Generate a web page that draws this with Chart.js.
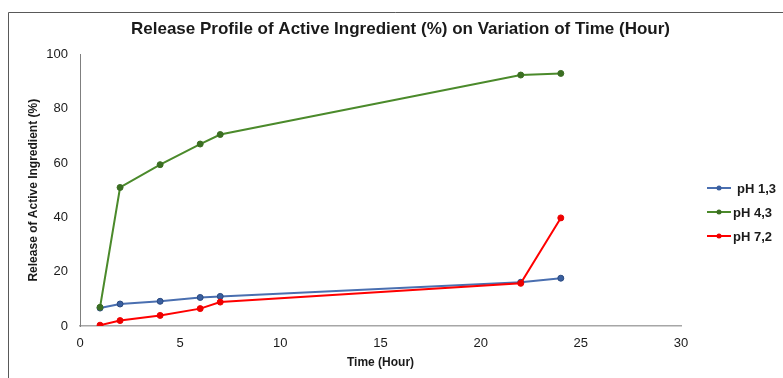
<!DOCTYPE html>
<html>
<head>
<meta charset="utf-8">
<script src="https://cdn.jsdelivr.net/npm/chart.js@4.4.1/dist/chart.umd.min.js"></script>
<style>
  html, body { margin: 0; padding: 0; background: #fff; }
  #wrap { width: 783px; height: 378px; position: relative; }
</style>
</head>
<body>
<div id="wrap"><canvas id="c" width="783" height="378"></canvas></div>
<script>
const timeHours = [1, 2, 4, 6, 7, 22, 24];
const ph13 = [6.6, 8.1, 9.1, 10.5, 10.9, 16.1, 17.6];
const ph43 = [6.9, 51.0, 59.4, 67.0, 70.5, 92.4, 93.0];
const ph72 = [0.3, 2.0, 3.9, 6.4, 8.8, 15.7, 39.8];
const seriesLabels = ['pH 1,3', 'pH 4,3', 'pH 7,2'];
const xTicks = [0, 5, 10, 15, 20, 25, 30];
const yTicks = [0, 20, 40, 60, 80, 100];

const FONT = "'Liberation Sans', Arial, sans-serif";

const toPts = arr => arr.map((v, i) => ({ x: timeHours[i], y: v }));

const framePlugin = {
  id: 'frame',
  beforeDraw(chart) {
    const ctx = chart.ctx;
    ctx.save();
    ctx.strokeStyle = '#595959';
    ctx.lineWidth = 1;
    ctx.beginPath();
    ctx.moveTo(8.5, 378);
    ctx.lineTo(8.5, 12.5);
    ctx.lineTo(783, 12.5);
    ctx.stroke();
    ctx.restore();
  }
};

const legendPlugin = {
  id: 'customLegend',
  afterDraw(chart) {
    const ctx = chart.ctx;
    ctx.save();
    const ys = [188, 212, 236];
    const textX = [737, 733, 733];
    chart.data.datasets.forEach((ds, i) => {
      const y = ys[i];
      ctx.strokeStyle = ds.borderColor;
      ctx.lineWidth = 2;
      ctx.beginPath();
      ctx.moveTo(707, y);
      ctx.lineTo(731, y);
      ctx.stroke();
      ctx.fillStyle = ds.pointBackgroundColor;
      ctx.beginPath();
      ctx.arc(719, y, 2.5, 0, Math.PI * 2);
      ctx.fill();
      ctx.fillStyle = '#1a1a1a';
      ctx.font = "bold 13px " + FONT;
      ctx.textBaseline = 'middle';
      ctx.textAlign = 'left';
      ctx.fillText(ds.label, textX[i], y + 1);
    });
    ctx.restore();
  }
};

new Chart(document.getElementById('c'), {
  type: 'line',
  data: {
    datasets: [
      {
        label: seriesLabels[0], data: toPts(ph13),
        borderColor: '#4a6fb0', backgroundColor: '#4a6fb0',
        pointBackgroundColor: '#3a5f9f', pointBorderColor: '#2a4a80',
        pointBorderWidth: 1, pointRadius: 3, borderWidth: 2, order: 2
      },
      {
        label: seriesLabels[1], data: toPts(ph43),
        borderColor: '#4b8a2b', backgroundColor: '#4b8a2b',
        pointBackgroundColor: '#3b6e22', pointBorderColor: '#3b6e22',
        pointBorderWidth: 1, pointRadius: 3, borderWidth: 2, order: 1
      },
      {
        label: seriesLabels[2], data: toPts(ph72),
        borderColor: '#ff0000', backgroundColor: '#ff0000',
        pointBackgroundColor: '#ee0000', pointBorderColor: '#ee0000',
        pointBorderWidth: 1, pointRadius: 3, borderWidth: 2, order: 0
      }
    ]
  },
  options: {
    responsive: false,
    animation: false,
    layout: { padding: { left: 18, right: 0, top: 0, bottom: 0 } },
    plugins: {
      legend: { display: false },
      tooltip: { enabled: false },
      title: {
        display: true,
        text: 'Release Profile of Active Ingredient (%) on Variation of Time (Hour)',
        color: '#1a1a1a',
        font: { family: FONT, size: 17, weight: 'bold' },
        padding: { top: 19, bottom: 15 }
      }
    },
    scales: {
      x: {
        type: 'linear', min: 0, max: 30,
        afterBuildTicks: s => { s.ticks = xTicks.map(v => ({ value: v })); },
        grid: { display: false, drawTicks: false },
        border: { display: true, color: '#a6a6a6', width: 1.5 },
        ticks: { color: '#1a1a1a', font: { family: FONT, size: 13 }, padding: 10, maxRotation: 0 },
        title: { display: true, text: 'Time (Hour)', color: '#1a1a1a',
                 font: { family: FONT, size: 12, weight: 'bold' }, padding: { top: 4, bottom: 8 } },
        afterFit: s => { s.height = 52; }
      },
      y: {
        type: 'linear', min: 0, max: 100,
        afterBuildTicks: s => { s.ticks = yTicks.map(v => ({ value: v })); },
        grid: { display: false, drawTicks: false },
        border: { display: true, color: '#7f7f7f', width: 1 },
        ticks: { color: '#1a1a1a', font: { family: FONT, size: 13 }, padding: 12 },
        title: { display: true, text: 'Release of Active Ingredient (%)', color: '#1a1a1a',
                 font: { family: FONT, size: 12, weight: 'bold' }, padding: { top: 8, bottom: 0 } },
        afterFit: s => { s.width = 62; }
      },
      legendSpace: {
        type: 'linear', position: 'right', min: 0, max: 1,
        grid: { display: false, drawTicks: false },
        border: { display: false },
        ticks: { display: false },
        afterFit: s => { s.width = 102; }
      }
    }
  },
  plugins: [framePlugin, legendPlugin]
});
</script>
</body>
</html>
